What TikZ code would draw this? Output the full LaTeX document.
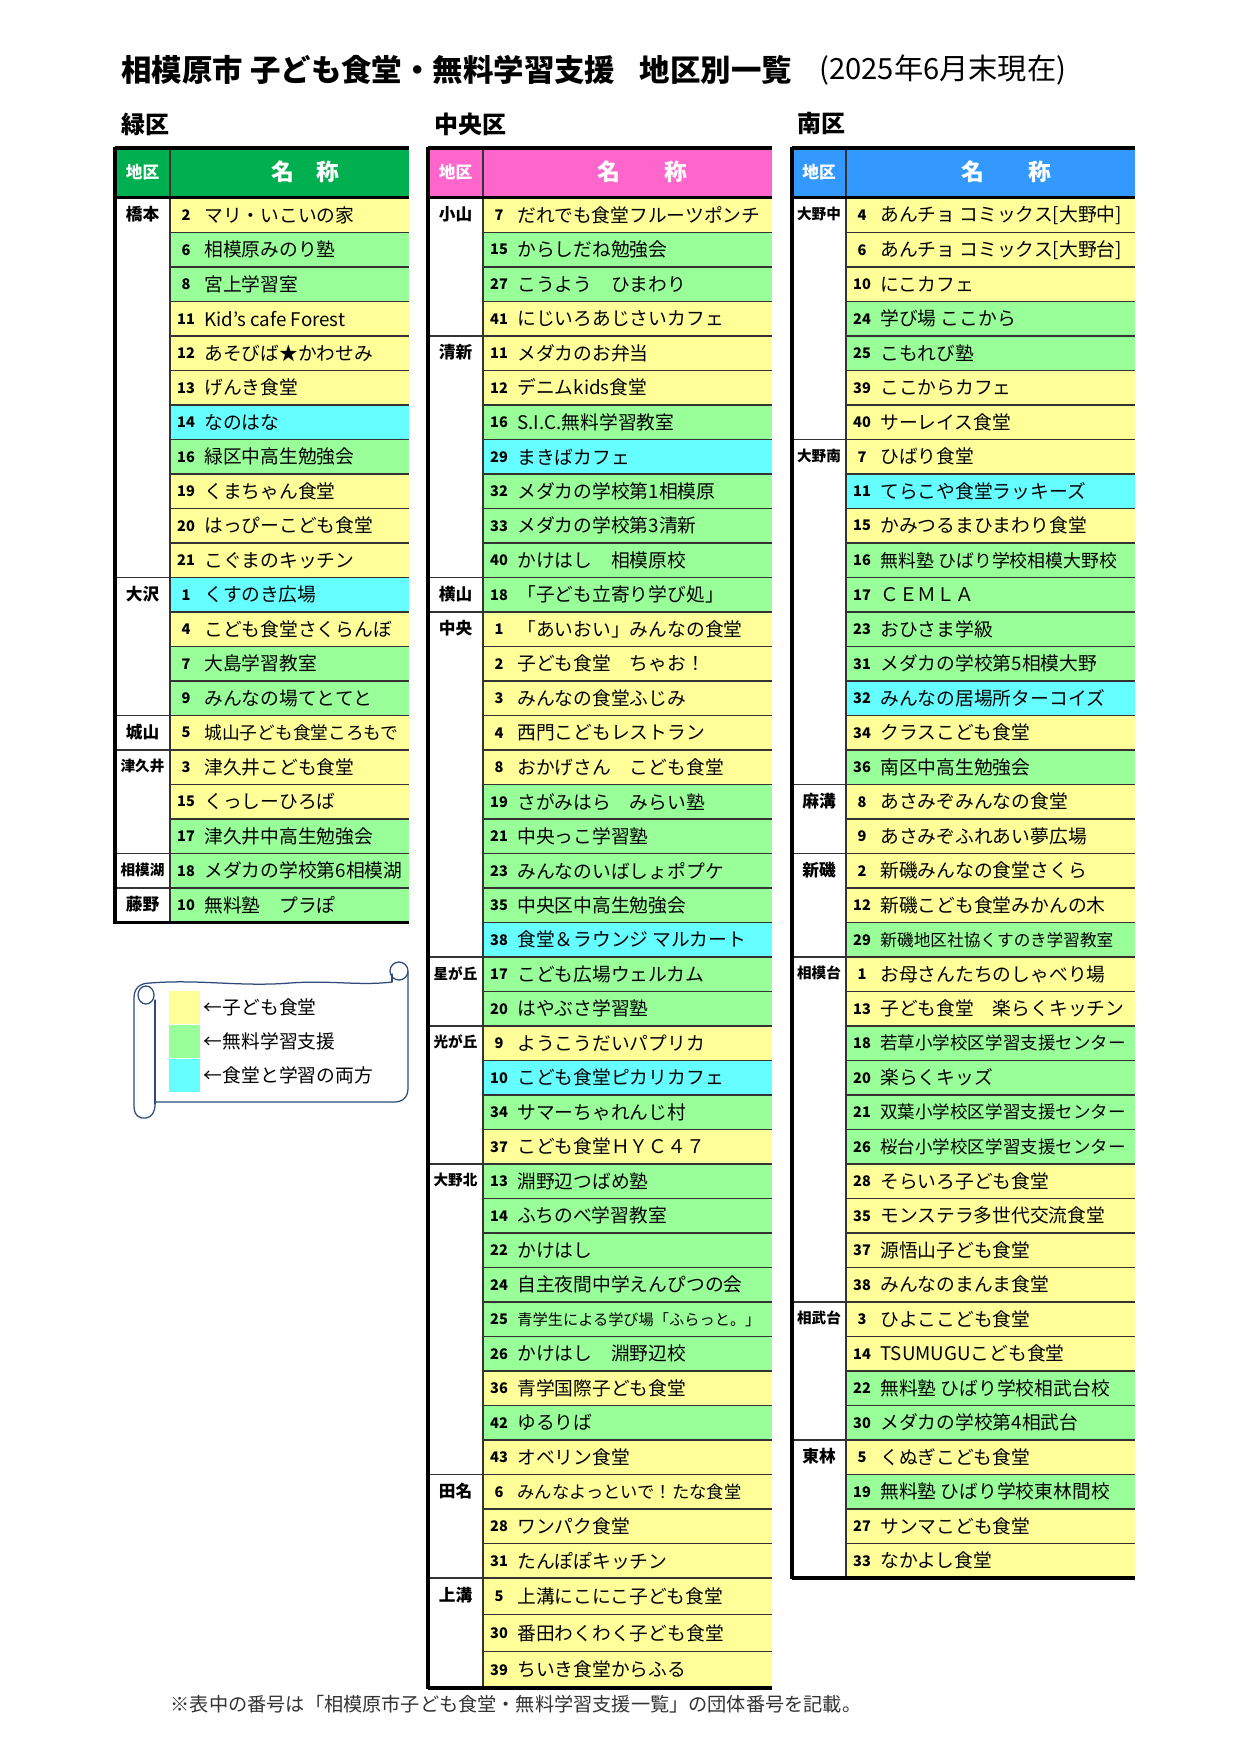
\documentclass[tikz,border=0pt]{standalone}
\usepackage{fontspec}
\setmainfont{Noto Sans CJK JP}
\usepackage{tikz}
\usetikzlibrary{positioning}
\definecolor{rowyel}{HTML}{FFFF99}
\definecolor{rowgrn}{HTML}{99FF99}
\definecolor{rowcyn}{HTML}{66FFFF}
\definecolor{hdrgrn}{HTML}{00B050}
\definecolor{hdrpnk}{HTML}{FF66CC}
\definecolor{hdrblu}{HTML}{3399FF}
\definecolor{scrollblue}{HTML}{2F4A7A}

% one row of a table: index, fill, number, name
\newcommand{\orgrow}[4]{%
  \pgfmathsetmacro{\ytop}{\rowbase+(#1)*\rowh}%
  \pgfmathsetmacro{\ymid}{\ytop+\rowh/2}%
  \fill[#2] (\colD,\ytop) rectangle (\colR,\ytop+\rowh);
  \draw[rowline] (\colD,\ytop) -- (\colR,\ytop);
  \node[entrynum] (\colkey-n#3) at (\colD+16,\ymid) {#3};
  \node[entryname] (\colkey-t#3) at (\colD+34,\ymid) {#4};
}
% district name at the first row of its group
\newcommand{\distrow}[4][8]{%
  \pgfmathsetmacro{\ytop}{\rowbase+(#2)*\rowh}%
  \pgfmathsetmacro{\ymid}{\ytop+\rowh/2-1}%
  \pgfmathsetmacro{\xmid}{(\colL+\colD)/2}%
  \draw[rowline] (\colL,\ytop) -- (\colD,\ytop);
  \node[distname, font=\fontsize{#1}{#1}\selectfont\bfseries] (\colkey-#3) at (\xmid,\ymid) {#4};
}

\begin{document}
\begin{tikzpicture}[x=0.4797pt, y=-0.4797pt,
  entrynum/.style={font=\fontsize{7}{8}\selectfont\bfseries, inner sep=0pt},
  entryname/.style={anchor=west, font=\fontsize{9}{11}\selectfont, inner sep=0pt},
  distname/.style={inner sep=0pt},
  wardhead/.style={anchor=west, font=\fontsize{11.5}{13}\selectfont\bfseries, inner sep=0pt},
  hdrsmall/.style={font=\fontsize{8}{9}\selectfont\bfseries, text=white, inner sep=0pt},
  hdrbig/.style={font=\fontsize{11}{12}\selectfont\bfseries, text=white, inner sep=0pt},
  rowline/.style={line width=0.55pt, draw=black!80},
  thickrule/.style={line width=1.5pt, draw=black},
  scroll/.style={draw=scrollblue, line width=0.6pt, line cap=round, line join=round},
  legbox/.style={minimum width=14.9pt, minimum height=15.9pt, inner sep=0pt},
  legtext/.style={anchor=west, font=\fontsize{9}{11}\selectfont, inner sep=0pt},
  notetext/.style={font=\fontsize{9.2}{10}\selectfont, text=black!80, inner sep=0pt}
]
\useasboundingbox[fill=white] (0,0) rectangle (1241,1755);

% Title
\node[anchor=west, font=\fontsize{14.6}{16}\selectfont\bfseries, inner sep=0pt] (title) at (121,70) {相模原市 子ども食堂・無料学習支援\hspace{0.8em}地区別一覧};
\node[anchor=west, font=\fontsize{14}{16}\selectfont, inner sep=0pt] (date) at (819,70) {(2025年6月末現在)};

% Ward headings
\node[wardhead] (ward-mido) at (121,124) {緑区};
\node[wardhead] (ward-chuo) at (434,124) {中央区};
\node[wardhead] (ward-mina) at (797,124) {南区};

% Table headers
\fill[hdrgrn] (115,148) rectangle (409,197.5);
\fill[hdrpnk] (428,148) rectangle (772,197.5);
\fill[hdrblu] (792,148) rectangle (1135,197.5);
\node[hdrsmall] (mido-h1) at (142.5,172) {地区};
\node[hdrbig] (mido-h2) at (283,172) {名};
\node[hdrbig] (mido-h3) at (328,172) {称};
\node[hdrsmall] (chuo-h1) at (455.5,172) {地区};
\node[hdrbig] (chuo-h2) at (609,172) {名};
\node[hdrbig] (chuo-h3) at (676,172) {称};
\node[hdrsmall] (mina-h1) at (819,172) {地区};
\node[hdrbig] (mina-h2) at (973,172) {名};
\node[hdrbig] (mina-h3) at (1040,172) {称};

% Midori
\def\colkey{mido}\def\colL{115}\def\colD{170}\def\colR{409}
\def\rowbase{198}\def\rowh{34.5}
\orgrow{0}{rowyel}{2}{マリ・いこいの家}
\orgrow{1}{rowgrn}{6}{相模原みのり塾}
\orgrow{2}{rowgrn}{8}{宮上学習室}
\orgrow{3}{rowyel}{11}{Kid's cafe Forest}
\orgrow{4}{rowyel}{12}{あそびば★かわせみ}
\orgrow{5}{rowyel}{13}{げんき食堂}
\orgrow{6}{rowcyn}{14}{なのはな}
\orgrow{7}{rowgrn}{16}{緑区中高生勉強会}
\orgrow{8}{rowyel}{19}{くまちゃん食堂}
\orgrow{9}{rowyel}{20}{はっぴーこども食堂}
\orgrow{10}{rowyel}{21}{こぐまのキッチン}
\orgrow{11}{rowcyn}{1}{くすのき広場}
\orgrow{12}{rowyel}{4}{こども食堂さくらんぼ}
\orgrow{13}{rowgrn}{7}{大島学習教室}
\orgrow{14}{rowgrn}{9}{みんなの場てとてと}
\orgrow{15}{rowyel}{5}{\fontsize{8.5}{9}\selectfont 城山子ども食堂ころもで}
\orgrow{16}{rowyel}{3}{津久井こども食堂}
\orgrow{17}{rowyel}{15}{くっしーひろば}
\orgrow{18}{rowgrn}{17}{津久井中高生勉強会}
\orgrow{19}{rowgrn}{18}{メダカの学校第6相模湖}
\orgrow{20}{rowgrn}{10}{無料塾　プラぽ}
\distrow{0}{hash}{橋本}
\distrow{11}{osaw}{大沢}
\distrow{15}{shir}{城山}
\distrow[7]{16}{tsuk}{津久井}
\distrow[7]{19}{sago}{相模湖}
\distrow{20}{fuji}{藤野}
\draw[rowline, line width=0.8pt] (170,148) -- (170,922.5);
\draw[thickrule] (115,148) -- (409,148);
\draw[thickrule] (115,197.5) -- (409,197.5);
\draw[thickrule] (115,922.5) -- (409,922.5);
\draw[thickrule, line width=1.8pt] (115,147) -- (115,923.5);

% Chuo
\def\colkey{chuo}\def\colL{428}\def\colD{483}\def\colR{772}
\def\rowbase{198}\def\rowh{34.5}
\orgrow{0}{rowyel}{7}{だれでも食堂フルーツポンチ}
\orgrow{1}{rowgrn}{15}{からしだね勉強会}
\orgrow{2}{rowgrn}{27}{こうよう　ひまわり}
\orgrow{3}{rowyel}{41}{にじいろあじさいカフェ}
\orgrow{4}{rowyel}{11}{メダカのお弁当}
\orgrow{5}{rowyel}{12}{デニムkids食堂}
\orgrow{6}{rowgrn}{16}{S.I.C.無料学習教室}
\orgrow{7}{rowcyn}{29}{まきばカフェ}
\orgrow{8}{rowgrn}{32}{メダカの学校第1相模原}
\orgrow{9}{rowgrn}{33}{メダカの学校第3清新}
\orgrow{10}{rowgrn}{40}{かけはし　相模原校}
\orgrow{11}{rowgrn}{18}{「子ども立寄り学び処」}
\orgrow{12}{rowyel}{1}{「あいおい」みんなの食堂}
\orgrow{13}{rowyel}{2}{子ども食堂　ちゃお！}
\orgrow{14}{rowyel}{3}{みんなの食堂ふじみ}
\orgrow{15}{rowyel}{4}{西門こどもレストラン}
\orgrow{16}{rowyel}{8}{おかげさん　こども食堂}
\orgrow{17}{rowgrn}{19}{さがみはら　みらい塾}
\orgrow{18}{rowgrn}{21}{中央っこ学習塾}
\orgrow{19}{rowgrn}{23}{みんなのいばしょポプケ}
\orgrow{20}{rowgrn}{35}{中央区中高生勉強会}
\orgrow{21}{rowcyn}{38}{食堂＆ラウンジ マルカート}
\orgrow{22}{rowgrn}{17}{こども広場ウェルカム}
\orgrow{23}{rowgrn}{20}{はやぶさ学習塾}
\orgrow{24}{rowyel}{9}{ようこうだいパプリカ}
\orgrow{25}{rowcyn}{10}{こども食堂ピカリカフェ}
\orgrow{26}{rowgrn}{34}{サマーちゃれんじ村}
\orgrow{27}{rowyel}{37}{こども食堂ＨＹＣ４７}
\orgrow{28}{rowgrn}{13}{淵野辺つばめ塾}
\orgrow{29}{rowgrn}{14}{ふちのべ学習教室}
\orgrow{30}{rowgrn}{22}{かけはし}
\orgrow{31}{rowgrn}{24}{自主夜間中学えんぴつの会}
\orgrow{32}{rowgrn}{25}{\fontsize{7.3}{8}\selectfont 青学生による学び場「ふらっと。」}
\orgrow{33}{rowgrn}{26}{かけはし　淵野辺校}
\orgrow{34}{rowyel}{36}{青学国際子ども食堂}
\orgrow{35}{rowgrn}{42}{ゆるりば}
\orgrow{36}{rowyel}{43}{オベリン食堂}
\orgrow{37}{rowyel}{6}{\fontsize{8.3}{9}\selectfont みんなよっといで！たな食堂}
\orgrow{38}{rowyel}{28}{ワンパク食堂}
\orgrow{39}{rowyel}{31}{たんぽぽキッチン}
\distrow{0}{koya}{小山}
\distrow{4}{seis}{清新}
\distrow{11}{yoko}{横山}
\distrow{12}{chuo}{中央}
\distrow[7]{22}{hosh}{星が丘}
\distrow[7]{24}{hika}{光が丘}
\distrow[7]{28}{onok}{大野北}
\distrow{37}{tana}{田名}
\def\rowbase{1578}\def\rowh{36.7}
\orgrow{0}{rowyel}{5}{上溝にこにこ子ども食堂}
\orgrow{1}{rowyel}{30}{番田わくわく子ども食堂}
\orgrow{2}{rowyel}{39}{ちいき食堂からふる}
\distrow{0}{kami}{上溝}
\draw[rowline, line width=0.8pt] (483,148) -- (483,1688);
\draw[thickrule] (428,148) -- (772,148);
\draw[thickrule] (428,197.5) -- (772,197.5);
\draw[thickrule] (428,1688) -- (772,1688);
\draw[thickrule, line width=1.8pt] (428,147) -- (428,1689);

% Minami
\def\colkey{mina}\def\colL{792}\def\colD{846}\def\colR{1135}
\def\rowbase{198}\def\rowh{34.5}
\orgrow{0}{rowyel}{4}{あんチョ コミックス[大野中]}
\orgrow{1}{rowyel}{6}{あんチョ コミックス[大野台]}
\orgrow{2}{rowyel}{10}{にこカフェ}
\orgrow{3}{rowgrn}{24}{学び場 ここから}
\orgrow{4}{rowgrn}{25}{こもれび塾}
\orgrow{5}{rowyel}{39}{ここからカフェ}
\orgrow{6}{rowyel}{40}{サーレイス食堂}
\orgrow{7}{rowyel}{7}{ひばり食堂}
\orgrow{8}{rowcyn}{11}{てらこや食堂ラッキーズ}
\orgrow{9}{rowyel}{15}{かみつるまひまわり食堂}
\orgrow{10}{rowgrn}{16}{\fontsize{8.6}{9}\selectfont 無料塾 ひばり学校相模大野校}
\orgrow{11}{rowgrn}{17}{ＣＥＭＬＡ}
\orgrow{12}{rowgrn}{23}{おひさま学級}
\orgrow{13}{rowgrn}{31}{メダカの学校第5相模大野}
\orgrow{14}{rowcyn}{32}{みんなの居場所ターコイズ}
\orgrow{15}{rowyel}{34}{クラスこども食堂}
\orgrow{16}{rowgrn}{36}{南区中高生勉強会}
\orgrow{17}{rowyel}{8}{あさみぞみんなの食堂}
\orgrow{18}{rowyel}{9}{あさみぞふれあい夢広場}
\orgrow{19}{rowyel}{2}{新磯みんなの食堂さくら}
\orgrow{20}{rowyel}{12}{新磯こども食堂みかんの木}
\orgrow{21}{rowgrn}{29}{\fontsize{8}{9}\selectfont 新磯地区社協くすのき学習教室}
\orgrow{22}{rowyel}{1}{お母さんたちのしゃべり場}
\orgrow{23}{rowyel}{13}{子ども食堂　楽らくキッチン}
\orgrow{24}{rowgrn}{18}{\fontsize{8.4}{9}\selectfont 若草小学校区学習支援センター}
\orgrow{25}{rowgrn}{20}{楽らくキッズ}
\orgrow{26}{rowgrn}{21}{\fontsize{8.4}{9}\selectfont 双葉小学校区学習支援センター}
\orgrow{27}{rowgrn}{26}{\fontsize{8.4}{9}\selectfont 桜台小学校区学習支援センター}
\orgrow{28}{rowyel}{28}{そらいろ子ども食堂}
\orgrow{29}{rowyel}{35}{モンステラ多世代交流食堂}
\orgrow{30}{rowyel}{37}{源悟山子ども食堂}
\orgrow{31}{rowyel}{38}{みんなのまんま食堂}
\orgrow{32}{rowyel}{3}{ひよここども食堂}
\orgrow{33}{rowyel}{14}{TSUMUGUこども食堂}
\orgrow{34}{rowgrn}{22}{無料塾 ひばり学校相武台校}
\orgrow{35}{rowgrn}{30}{メダカの学校第4相武台}
\orgrow{36}{rowyel}{5}{くぬぎこども食堂}
\orgrow{37}{rowgrn}{19}{無料塾 ひばり学校東林間校}
\orgrow{38}{rowyel}{27}{サンマこども食堂}
\orgrow{39}{rowyel}{33}{なかよし食堂}
\distrow[7]{0}{onon}{大野中}
\distrow[7]{7}{onom}{大野南}
\distrow{17}{asam}{麻溝}
\distrow{19}{aras}{新磯}
\distrow[7]{22}{sgdi}{相模台}
\distrow[7]{32}{sbdi}{相武台}
\distrow{36}{tori}{東林}
\draw[rowline, line width=0.8pt] (846,148) -- (846,1578);
\draw[thickrule] (792,148) -- (1135,148);
\draw[thickrule] (792,197.5) -- (1135,197.5);
\draw[thickrule] (792,1578) -- (1135,1578);
\draw[thickrule, line width=1.8pt] (792,147) -- (792,1579);

% Legend scroll
\draw[scroll] (150,983) .. controls (200,979) and (240,987) .. (290,983)
  .. controls (330,980) and (360,986) .. (392,982);
\draw[scroll] (399,971) circle (9);
\draw[scroll] (392,982) -- (392,974);
\draw[scroll] (408,972) -- (408,1088) .. controls (408,1097) and (403,1102) .. (394,1102) -- (155,1102);
\draw[scroll] (150,983) .. controls (139,983) and (134,989) .. (134,998) -- (134,1106)
  .. controls (134,1116) and (140,1119) .. (146,1118) .. controls (152,1117) and (155,1112) .. (155,1104);
\draw[scroll] (155,1000) -- (155,1104);
\draw[scroll] (146,995) ellipse (8 and 9);
\node[legbox, fill=rowyel] (key-food) at (184.5,1007.5) {};
\node[legbox, fill=rowgrn, below=0pt of key-food] (key-study) {};
\node[legbox, fill=rowcyn, below=0pt of key-study] (key-both) {};
\node[legtext, right=1.5pt of key-food] (leg-food) {←子ども食堂};
\node[legtext, right=1.5pt of key-study] (leg-study) {←無料学習支援};
\node[legtext, right=1.5pt of key-both] (leg-both) {←食堂と学習の両方};

% Footnote
\node[notetext] (note) at (516,1704) {※表中の番号は「相模原市子ども食堂・無料学習支援一覧」の団体番号を記載。};
\end{tikzpicture}
\end{document}
